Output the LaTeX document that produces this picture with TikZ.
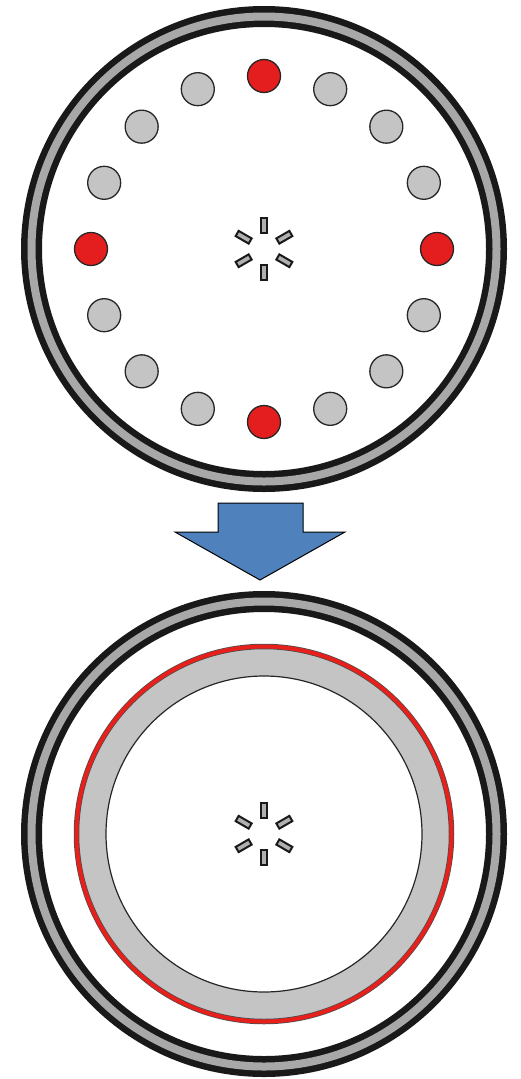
\documentclass[tikz,border=0pt]{standalone}
\usetikzlibrary{calc}
\definecolor{ringgray}{HTML}{A8A8A8}
\definecolor{dotgray}{HTML}{C4C4C4}
\definecolor{dotred}{HTML}{E41E1E}
\definecolor{ringred}{HTML}{E8201C}
\definecolor{arrowblue}{HTML}{4F81BD}
\definecolor{barfill}{HTML}{B0B0B0}
\tikzset{
  dot/.style={circle, draw=black!85, line width=1.3pt, minimum size=33pt, inner sep=0pt, fill=dotgray},
  reddot/.style={dot, fill=dotred},
  bar/.style={rectangle, draw=black!90, line width=2pt, fill=barfill, minimum width=15pt, minimum height=6pt, inner sep=0pt},
  outerblack/.style={draw=black!90, line width=21pt},
  outergray/.style={draw=ringgray, line width=8pt},
  blockarrow/.style={draw=black, line width=1pt, fill=arrowblue, line join=miter}
}
\newcommand{\myring}[1]{%
  \draw[outerblack] (#1) circle[radius=232.5];
  \draw[outergray] (#1) circle[radius=232.5];
}
\newcommand{\mystar}[2]{%
  \foreach \a in {30,90,150,210,270,330}{
    \node[bar, rotate=-\a] (#2-\a) at ($(#1)+(\a:23.5)$) {};
  }
}
\begin{document}
\begin{tikzpicture}[x=1pt,y=-1pt]
\useasboundingbox[fill=white] (0,0) rectangle (520,1079);
% top disc
\coordinate (c1) at (264,249);
\myring{c1}
\foreach \i in {0,...,15}{
  \pgfmathtruncatemacro{\isred}{mod(\i,4)==0 ? 1 : 0}
  \ifnum\isred=1
    \node[reddot] (d\i) at ($(c1)+(\i*22.5:173)$) {};
  \else
    \node[dot] (d\i) at ($(c1)+(\i*22.5:173)$) {};
  \fi
}
\mystar{c1}{s1}
% arrow
\draw[blockarrow] (218,503) -- (303,503) -- (303,532) -- (345,532) -- (260,580) -- (175,532) -- (218,532) -- cycle;
% bottom disc
\coordinate (c2) at (264,834);
\myring{c2}
\fill[dotgray] (c2) circle[radius=187];
\draw[black!70, line width=5.5pt] (c2) circle[radius=187.5];
\draw[ringred, line width=4pt] (c2) circle[radius=187.5];
\draw[fill=white, draw=black!85, line width=1.2pt] (c2) circle[radius=158];
\mystar{c2}{s2}
\end{tikzpicture}
\end{document}
